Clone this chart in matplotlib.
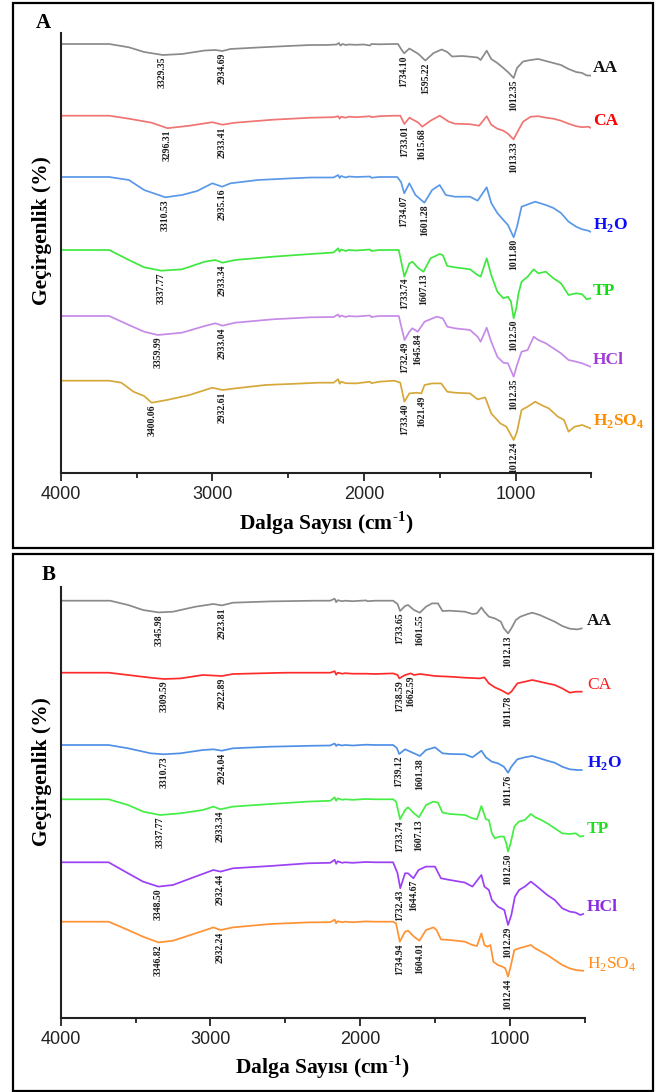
import numpy as np
import matplotlib
matplotlib.use("Agg")
import matplotlib.pyplot as plt
from matplotlib.patches import Rectangle

plt.rcParams['font.family'] = ['Liberation Serif', 'DejaVu Serif']
plt.rcParams['mathtext.fontset'] = 'custom'
plt.rcParams['mathtext.rm'] = 'Liberation Serif'
plt.rcParams['mathtext.bf'] = 'Liberation Serif:bold'

# ---------------- data: panel A (relative transmittance, arbitrary units) -------------
A_AA_wn = [4000, 3680, 3550, 3450, 3326, 3200, 3050, 2980, 2934, 2880, 2700, 2500, 2350, 2250, 2180, 2165, 2155, 2140, 2120, 2100, 2050, 2000, 1960, 1950, 1900, 1800, 1775, 1755, 1734, 1700, 1640, 1595, 1540, 1487, 1450, 1418, 1350, 1300, 1250, 1230, 1190, 1160, 1120, 1080, 1050, 1012, 990, 950, 900, 850, 800, 750, 700, 650, 600, 560, 530, 505]
A_AA_T = [0, 0, -3.3, -8, -11, -10, -6.5, -6, -7, -5, -3.5, -2, -1, -1, -0.5, 1, -1.5, 0, -1, -0.5, -0.8, -0.5, -1.5, 0, -0.3, 0, 0, -5, -9.3, -4.5, -10, -16.5, -9, -5.5, -8, -12.5, -12, -12.7, -13.5, -16, -6.7, -15, -19, -24, -28, -34, -24, -17.5, -16, -15, -17, -19, -21, -25, -28, -29, -31.5, -31.5]

A_CA_wn = [4000, 3680, 3550, 3400, 3296, 3150, 3000, 2933, 2850, 2600, 2350, 2200, 2170, 2160, 2150, 2120, 2100, 2050, 1960, 1950, 1900, 1800, 1760, 1733, 1700, 1640, 1615, 1560, 1500, 1440, 1400, 1300, 1240, 1190, 1160, 1120, 1080, 1050, 1013, 990, 950, 900, 850, 800, 750, 700, 650, 600, 560, 520, 505]
A_CA_T = [0, 0, -3, -7, -12.5, -10, -6.5, -9, -7, -4, -2, -1.5, -0.5, -3, -1, -2, -1, -1.5, -0.5, -1.5, -0.5, 0, 0, -8.3, -2, -7, -11, -5, 0, -6, -8, -8.5, -10, -0.5, -9, -13, -15, -18, -23.7, -17, -6, -1, -0.5, -2, -3, -5, -8, -10.5, -11.5, -11, -12]

A_H2O_wn = [4000, 3680, 3550, 3450, 3310, 3200, 3100, 3000, 2935, 2880, 2700, 2500, 2350, 2200, 2170, 2160, 2150, 2120, 2100, 2050, 1960, 1950, 1900, 1780, 1755, 1734, 1700, 1660, 1601, 1550, 1500, 1460, 1400, 1300, 1250, 1190, 1160, 1120, 1080, 1050, 1012, 990, 960, 930, 870, 800, 750, 700, 650, 600, 560, 520, 505]
A_H2O_T = [0, 0, -3, -13, -20.3, -18, -14, -6.3, -9.7, -6.3, -3, -1.5, -0.5, -0.5, 2, -1, 1, -0.5, 0.5, 0, 0.5, -0.8, 0, 0, -5, -16.3, -6.3, -18, -25.7, -13, -8, -18, -19.7, -19.7, -23.7, -10.3, -26, -36, -43, -48, -60.3, -49.7, -29.7, -28, -24.7, -28, -31, -36, -44.7, -49.7, -52.3, -53.7, -54.7]

A_TP_wn = [4000, 3680, 3550, 3450, 3337, 3200, 3050, 2980, 2933, 2850, 2600, 2350, 2200, 2170, 2160, 2150, 2120, 2100, 2050, 1960, 1950, 1900, 1800, 1770, 1733, 1700, 1680, 1640, 1607, 1560, 1500, 1480, 1450, 1400, 1300, 1250, 1230, 1190, 1160, 1120, 1080, 1050, 1030, 1012, 995, 980, 960, 920, 880, 850, 800, 750, 700, 650, 600, 560, 530, 505]
A_TP_T = [0, 0, -10, -17.3, -20.7, -19.3, -11.7, -10, -12.7, -10, -6.7, -4, -2.5, 1.7, -1.7, 0.5, -1, 0, -0.5, 0.5, -1, 0, 0, 0, -26.7, -13.3, -11.7, -18.3, -21.7, -8.3, -4, -5, -16, -17.3, -19.3, -25, -26.7, -8.3, -25, -41.7, -48.3, -46.7, -51.7, -68.3, -58.3, -43.3, -31.7, -26.7, -19.3, -23.3, -21.7, -28.3, -33.3, -45, -43.3, -44.3, -49.3, -48.3]

A_HCl_wn = [4000, 3680, 3550, 3450, 3360, 3200, 3050, 2980, 2933, 2850, 2600, 2350, 2200, 2170, 2160, 2150, 2120, 2100, 2050, 1960, 1950, 1900, 1800, 1770, 1732, 1700, 1680, 1645, 1600, 1520, 1480, 1450, 1400, 1300, 1250, 1230, 1190, 1160, 1120, 1080, 1050, 1012, 990, 960, 920, 880, 850, 800, 750, 700, 650, 600, 560, 505]
A_HCl_T = [0, 0, -9, -15.7, -19, -16.7, -10, -7.3, -9.7, -6.7, -3.3, -1.3, -1, 1.5, -1, 0.5, -1, 0, -0.5, 0.5, -1, 0, 0, 0, -24, -15.7, -12.3, -15.7, -5.7, -0.7, -2.3, -10.7, -12.3, -14, -20.7, -25.7, -11.7, -25.7, -40.7, -46.7, -47.3, -60.7, -49, -35.7, -34, -20.7, -24, -27.3, -32.3, -37.3, -44, -45.7, -47.3, -50.7]

A_H2SO4_wn = [4000, 3680, 3600, 3520, 3450, 3400, 3300, 3150, 3000, 2932, 2850, 2650, 2400, 2300, 2200, 2170, 2160, 2150, 2120, 2050, 1960, 1950, 1900, 1800, 1760, 1733, 1700, 1650, 1621, 1600, 1550, 1490, 1450, 1400, 1300, 1250, 1200, 1160, 1100, 1060, 1012, 990, 960, 920, 870, 830, 780, 720, 680, 650, 610, 560, 505]
A_H2SO4_T = [0, 0, -2, -11, -15.3, -22, -19.3, -14.3, -7, -9.3, -7.7, -4.3, -2.7, -2, -2, 1.5, -3, -1, -2.5, -2.7, -1, -2.5, -1, 0, -2, -21, -12.7, -12, -12.7, -4.3, -2.7, -2.7, -11, -12, -12.7, -18.7, -16.7, -32.7, -42.7, -46, -59.3, -51, -29.3, -26, -21, -24.3, -27.7, -36, -39.3, -51, -46, -44.3, -47.7]

# ---------------- data: panel B ----------------
B_AA_wn = [4000, 3670, 3550, 3450, 3346, 3250, 3100, 2980, 2924, 2850, 2600, 2300, 2200, 2170, 2160, 2150, 2120, 2100, 2050, 1960, 1950, 1900, 1780, 1750, 1733, 1700, 1680, 1640, 1601, 1560, 1520, 1480, 1450, 1400, 1300, 1250, 1220, 1190, 1170, 1140, 1100, 1060, 1040, 1012, 990, 960, 930, 880, 850, 800, 750, 700, 650, 600, 550, 520]
B_AA_T = [0, 0, -4.3, -9.3, -11.7, -11, -6, -3.3, -4.7, -2, -0.7, 0, 0, 2, -1.5, 0.5, -0.5, 0, -0.5, 0.3, -0.5, 0, 0, -3.3, -10.3, -5.3, -4.3, -9.3, -12, -6, -2.7, -2.7, -10.3, -10, -11, -13.3, -12.7, -6.7, -11, -16, -17.7, -21, -27.7, -32.7, -27.7, -19.3, -16, -13.3, -12, -14.3, -17.7, -21, -25.3, -28, -28.7, -27.7]

B_CA_wn = [4000, 3680, 3550, 3400, 3310, 3200, 3050, 2923, 2850, 2500, 2200, 2170, 2160, 2150, 2120, 2100, 2050, 1960, 1900, 1780, 1750, 1738, 1700, 1662, 1640, 1600, 1500, 1400, 1300, 1200, 1170, 1140, 1100, 1060, 1012, 990, 950, 900, 850, 800, 750, 700, 650, 600, 560, 520]
B_CA_T = [0, 0, -2.3, -5, -6.3, -5.7, -2.3, -3.3, -1.3, 0, 0, 1.5, -2, 0, -1, -0.5, -1, -1, -1.3, -0.7, -2.3, -5.7, -2.3, -0.7, -2.3, -1.3, -3.3, -4, -5, -5.7, -4.7, -10.7, -14.7, -17.3, -21.3, -19, -10.7, -9, -7.3, -9, -10.7, -12.3, -15.7, -20, -19, -19]

B_H2O_wn = [4000, 3680, 3550, 3400, 3310, 3200, 3050, 2980, 2924, 2850, 2600, 2300, 2200, 2170, 2160, 2150, 2120, 2100, 2050, 1960, 1900, 1780, 1755, 1739, 1700, 1640, 1601, 1560, 1500, 1450, 1400, 1300, 1250, 1190, 1160, 1120, 1080, 1040, 1012, 990, 950, 900, 850, 800, 750, 700, 650, 600, 550, 520]
B_H2O_T = [0, 0, -3.3, -8.3, -9.3, -8.3, -5, -4.3, -5.7, -3.3, -1.7, -0.7, -0.5, 1.5, -1, 0.5, -0.5, 0, -0.5, 0.3, 0, 0, -3, -9, -4.3, -8.3, -11, -5, -2.3, -8.3, -9, -9.3, -12.3, -5.7, -12.3, -16.7, -18.3, -21.7, -27.7, -21.7, -14.3, -12.3, -11, -13.3, -15.7, -17.7, -21.7, -24.3, -25, -25]

B_TP_wn = [4000, 3680, 3550, 3450, 3337, 3200, 3050, 2980, 2933, 2850, 2600, 2350, 2200, 2170, 2160, 2150, 2120, 2100, 2050, 1960, 1900, 1780, 1760, 1733, 1700, 1680, 1640, 1607, 1560, 1510, 1480, 1450, 1400, 1300, 1250, 1220, 1190, 1160, 1140, 1120, 1100, 1070, 1040, 1025, 1012, 995, 970, 940, 900, 860, 830, 790, 750, 700, 650, 600, 560, 530, 510]
B_TP_T = [0, 0, -5.7, -12.3, -15.7, -14, -10.7, -7.3, -10, -7.3, -4.7, -2.3, -1.5, 2, -1.5, 1, -0.5, 0, -0.5, 0.3, 0, 0, -2.3, -20, -10.7, -8, -14, -18, -5.7, -2.3, -3.3, -13.3, -14.7, -15.7, -19, -20, -6.7, -20, -20.7, -34, -39, -37.3, -37.3, -43.3, -52.3, -44, -27.3, -22.3, -20.7, -14.7, -18, -20.7, -24, -29, -34, -34.7, -34, -37.3, -36.7]

B_HCl_wn = [4000, 3680, 3550, 3450, 3348, 3250, 3100, 2980, 2932, 2850, 2600, 2350, 2200, 2170, 2160, 2150, 2120, 2100, 2050, 1960, 1900, 1780, 1750, 1732, 1700, 1680, 1644, 1610, 1560, 1500, 1460, 1400, 1300, 1250, 1190, 1170, 1140, 1120, 1080, 1037, 1012, 990, 966, 938, 900, 860, 830, 790, 750, 700, 650, 600, 560, 530, 510]
B_HCl_T = [0, 0, -11, -19.3, -24.3, -22.7, -14.3, -7.7, -9.3, -6, -3.7, -1, -0.5, 2.5, -1.5, 1, -0.5, 0, -0.5, 0.3, 0, 0, -11, -26, -11, -11, -16, -7.7, -4.3, -4.3, -16, -17.7, -20.3, -24.3, -12.7, -24.3, -27.7, -37.7, -44.3, -47.7, -62.7, -52.7, -34.3, -27.7, -24.3, -19.3, -22.7, -27.7, -32.7, -37.7, -46, -49.3, -50.3, -52.7, -51.7]

B_H2SO4_wn = [4000, 3680, 3550, 3450, 3347, 3250, 3100, 2980, 2932, 2850, 2600, 2350, 2200, 2170, 2160, 2150, 2120, 2100, 2050, 1960, 1900, 1780, 1760, 1735, 1700, 1680, 1640, 1604, 1560, 1510, 1490, 1460, 1400, 1300, 1250, 1220, 1190, 1170, 1150, 1130, 1110, 1080, 1050, 1030, 1012, 995, 970, 940, 900, 860, 830, 790, 750, 700, 650, 600, 560, 520, 510]
B_H2SO4_T = [0, 0, -8.3, -15, -20.7, -19, -11.7, -5.7, -8.3, -5.7, -2.3, -0.7, -0.5, 2, -1.5, 0.5, -0.5, 0, -0.5, 0.3, 0, 0, -1.7, -20, -10, -9, -15, -19, -8.3, -5.7, -8.3, -17.7, -18.3, -20, -23.3, -24.3, -11.7, -23.3, -25, -23.3, -40, -43.3, -45, -46.7, -55, -45, -28.3, -26.7, -25, -23.3, -26.7, -30, -33.3, -38.3, -43.3, -46.7, -48.3, -49, -49]

# ---------------- peak labels ----------------
A_peaks = {
    "AA": [3329.35, 2934.69, 1734.10, 1595.22, 1012.35],
    "CA": [3296.31, 2933.41, 1733.01, 1615.68, 1013.33],
    "H2O": [3310.53, 2935.16, 1734.07, 1601.28, 1011.80],
    "TP": [3337.77, 2933.34, 1733.74, 1607.13, 1012.50],
    "HCl": [3359.99, 2933.04, 1732.49, 1645.84, 1012.35],
    "H2SO4": [3400.06, 2932.61, 1733.40, 1621.49, 1012.24],
}
B_peaks = {
    "AA": [3345.98, 2923.81, 1733.65, 1601.55, 1012.13],
    "CA": [3309.59, 2922.89, 1738.59, 1662.59, 1011.78],
    "H2O": [3310.73, 2924.04, 1739.12, 1601.38, 1011.76],
    "TP": [3337.77, 2933.34, 1733.74, 1607.13, 1012.50],
    "HCl": [3348.50, 2932.44, 1732.43, 1644.67, 1012.29],
    "H2SO4": [3346.82, 2932.24, 1734.94, 1604.01, 1012.44],
}

samples = ["AA", "CA", "H2O", "TP", "HCl", "H2SO4"]
x_ticks = [4000, 3000, 2000, 1000]
x_minor = [3500, 2500, 1500, 500]

# ---------------- styling ----------------
A_offsets = [429, 357.3, 296, 223, 157, 92.3]
B_offsets = [417, 345, 272.7, 218.4, 155.4, 96]
A_line_colors = ['#8a8a8a', '#f07474', '#5a98e8', '#3fe83f', '#c68ae8', '#d6a83a']
B_line_colors = ['#8a8a8a', '#ff2a2a', '#4f90e6', '#44ee44', '#9b40f5', '#ff9233']
A_text_colors = ['#111111', '#ff0000', '#0a0aff', '#10dd10', '#a33ad6', '#ff8c00']
B_text_colors = ['#111111', '#ff1a1a', '#1010f0', '#22dd22', '#8a2be2', '#ff8c1a']
A_weights = ['bold'] * 6
B_weights = ['bold', 'normal', 'bold', 'bold', 'bold', 'normal']


def label_text(name, weight):
    cmd = r'\mathbf' if weight == 'bold' else r'\mathrm'
    if name == 'H2O':
        return 'H$_{%s{2}}$O' % cmd
    if name == 'H2SO4':
        return 'H$_{%s{2}}$SO$_{%s{4}}$' % (cmd, cmd)
    return name


A_data = [(A_AA_wn, A_AA_T), (A_CA_wn, A_CA_T), (A_H2O_wn, A_H2O_T),
          (A_TP_wn, A_TP_T), (A_HCl_wn, A_HCl_T), (A_H2SO4_wn, A_H2SO4_T)]
B_data = [(B_AA_wn, B_AA_T), (B_CA_wn, B_CA_T), (B_H2O_wn, B_H2O_T),
          (B_TP_wn, B_TP_T), (B_HCl_wn, B_HCl_T), (B_H2SO4_wn, B_H2SO4_T)]

W, H = 660, 1092
fig = plt.figure(figsize=(W / 100, H / 100), dpi=100)


def fx(px):
    return px / W


def fy(py):
    return 1 - py / H


# panel frames
for (x0, y0, x1, y1) in [(12.7, 2.5, 653, 548), (12.7, 554, 653, 1090.5)]:
    fig.add_artist(Rectangle((fx(x0), fy(y1)), fx(x1) - fx(x0), fy(y0) - fy(y1),
                             transform=fig.transFigure, fill=False, lw=1.6, ec='black'))


def make_panel(rect_px, ylim_top, data, offsets, lcolors, tcolors, weights, peaks,
               label_wn, letter_xy, letter, ylabel_y, xlabel_xy):
    left, top, right, bottom = rect_px
    ax = fig.add_axes([fx(left), fy(bottom), fx(right) - fx(left), fy(top) - fy(bottom)])
    ax.set_xlim(4000, 500)
    ax.set_ylim(0, ylim_top)
    for s in ['top', 'right']:
        ax.spines[s].set_visible(False)
    for s in ['left', 'bottom']:
        ax.spines[s].set_linewidth(1.5)
        ax.spines[s].set_color('#222222')
    ax.set_yticks([])
    ax.set_xticks(x_ticks)
    ax.set_xticks(x_minor, minor=True)
    ax.tick_params(axis='x', which='major', direction='out', length=5.5, width=1.3,
                   pad=4, labelsize=13, colors='#222222')
    ax.tick_params(axis='x', which='minor', direction='out', length=3.5, width=1.3,
                   colors='#222222')
    for lab in ax.get_xticklabels():
        lab.set_fontfamily('Liberation Sans')
    for i, name in enumerate(samples):
        wn, T = data[i]
        wn = np.asarray(wn, float)
        T = np.asarray(T, float)
        y = T + offsets[i]
        ax.plot(wn, y, color=lcolors[i], lw=1.25, solid_joinstyle='round')
        order = np.argsort(wn)
        for p in peaks[name]:
            yp = np.interp(p, wn[order], y[order])
            ax.text(p, yp - 1.8, f"{p:.2f}", rotation=90, ha='center', va='top',
                    fontsize=7.0, fontweight='bold', color='#1a1a1a')
        ax.text(label_wn, y[-1] + 7, label_text(name, weights[i]), ha='left', va='center',
                fontsize=12.5, fontweight=weights[i], color=tcolors[i], clip_on=False)
    fig.text(fx(letter_xy[0]), fy(letter_xy[1]), letter, ha='center', va='center',
             fontsize=15, fontweight='bold')
    fig.text(fx(41.7), fy(ylabel_y), 'Geçirgenlik (%)', rotation=90, ha='center',
             va='center', fontsize=15.5, fontweight='bold')
    fig.text(fx(xlabel_xy[0]), fy(xlabel_xy[1]), 'Dalga Sayısı (cm$^{\\mathbf{\u2010}\\mathbf{1}}$)',
             ha='center', va='center', fontsize=15.5, fontweight='bold')
    return ax


make_panel((60.7, 33, 591.3, 473), 440, A_data, A_offsets, A_line_colors, A_text_colors,
           A_weights, A_peaks, 489, (43, 22.7), 'A', 231, (326, 523))
make_panel((60.7, 587, 584.7, 1017.7), 430.7, B_data, B_offsets, B_line_colors, B_text_colors,
           B_weights, B_peaks, 484, (49, 575), 'B', 772, (322.7, 1066.7))

fig.savefig('out.png', dpi=100)
